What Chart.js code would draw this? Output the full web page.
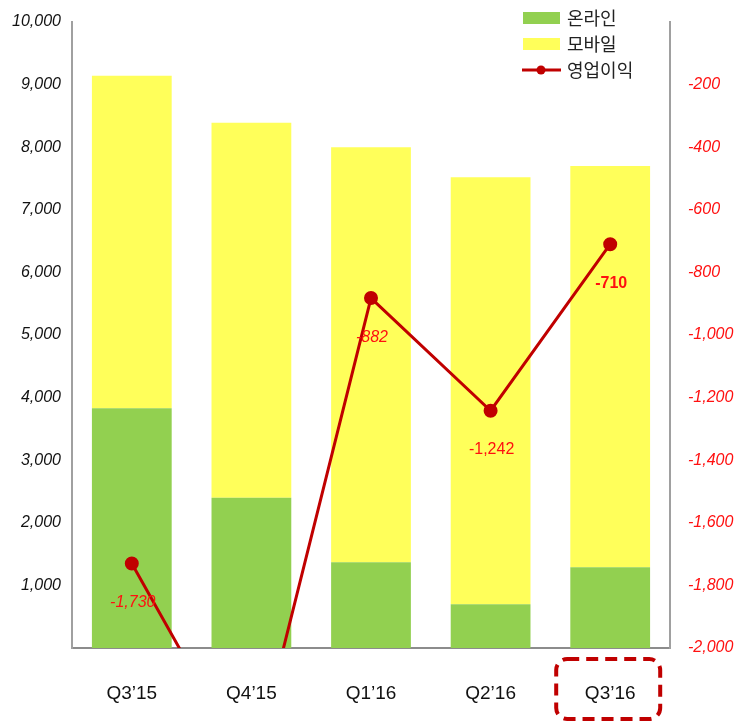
<!DOCTYPE html>
<html>
<head>
<meta charset="utf-8">
<script src="https://cdn.jsdelivr.net/npm/chart.js@4"></script>
<style>
  html, body { margin: 0; padding: 0; background: #fff; }
  #wrap { position: relative; width: 736px; height: 722px; }
</style>
</head>
<body>
<div id="wrap"><canvas id="c" width="736" height="722"></canvas></div>
<script>
const quarters = ['Q3’15', 'Q4’15', 'Q1’16', 'Q2’16', 'Q3’16'];
const online = [3830, 2400, 1370, 700, 1290];
const mobile = [5310, 5990, 6630, 6820, 6410];
const opProfit = [-1730, -2410, -882, -1242, -710];
const profitLabels = ['-1,730', '', '-882', '-1,242', '-710'];
const seriesNames = ['온라인', '모바일', '영업이익'];

const FONT = '"Liberation Sans", "Noto Sans CJK KR", sans-serif';
const KFONT = '"Noto Sans CJK KR", "Noto Sans", sans-serif';
const GREEN = '#92D050';
const YELLOW = '#FFFF5A';
const RED = '#C00000';

// legend drawn inside chart area, top-right
const legendPlugin = {
  id: 'cornerLegend',
  afterDraw(chart) {
    const ctx = chart.ctx;
    const x = 523, y0 = 18, gap = 26;
    ctx.save();
    ctx.font = '18px ' + KFONT;
    ctx.textBaseline = 'middle';
    ctx.fillStyle = GREEN;
    ctx.fillRect(x, y0 - 6, 37, 12);
    ctx.fillStyle = YELLOW;
    ctx.fillRect(x, y0 + gap - 6, 37, 12);
    ctx.strokeStyle = RED;
    ctx.lineWidth = 3;
    ctx.beginPath();
    ctx.moveTo(x - 1, y0 + gap * 2);
    ctx.lineTo(x + 38, y0 + gap * 2);
    ctx.stroke();
    ctx.fillStyle = RED;
    ctx.beginPath();
    ctx.arc(x + 18, y0 + gap * 2, 4.5, 0, Math.PI * 2);
    ctx.fill();
    ctx.fillStyle = '#222';
    seriesNames.forEach((n, i) => ctx.fillText(n, x + 44, y0 + gap * i));
    ctx.restore();
  }
};

// value labels under line points + dashed box round last category
const labelPlugin = {
  id: 'profitLabels',
  afterDatasetsDraw(chart) {
    const ctx = chart.ctx;
    const meta = chart.getDatasetMeta(2);
    const styles = ['italic ', '', 'italic ', '', 'bold '];
    ctx.save();
    ctx.fillStyle = '#FF1010';
    ctx.textAlign = 'center';
    ctx.textBaseline = 'middle';
    meta.data.forEach((pt, i) => {
      if (!profitLabels[i]) return;
      ctx.font = styles[i] + '16px ' + FONT;
      ctx.fillText(profitLabels[i], pt.x + 1, pt.y + 39);
    });

    const xs = chart.scales.x;
    const cx = xs.getPixelForValue(quarters.length - 1);
    const top = chart.chartArea.bottom + 11, h = 60, w = 104;
    ctx.strokeStyle = RED;
    ctx.lineWidth = 4;
    ctx.setLineDash([12, 7]);
    ctx.beginPath();
    ctx.roundRect(cx - w / 2 - 2, top, w, h, 11);
    ctx.stroke();
    ctx.restore();
  }
};

// vertical axes: fixed width, no label overflow padding
const fixVertical = width => s => {
  s.width = width;
  s.paddingTop = 0;
  s.paddingBottom = 0;
};

new Chart(document.getElementById('c'), {
  data: {
    labels: quarters,
    datasets: [
      {
        type: 'bar', label: seriesNames[0], data: online,
        backgroundColor: GREEN, yAxisID: 'y', order: 2,
        barPercentage: 1, categoryPercentage: 0.667
      },
      {
        type: 'bar', label: seriesNames[1], data: mobile,
        backgroundColor: YELLOW, yAxisID: 'y', order: 2,
        barPercentage: 1, categoryPercentage: 0.667
      },
      {
        type: 'line', label: seriesNames[2], data: opProfit,
        borderColor: RED, backgroundColor: RED, borderWidth: 3,
        pointRadius: 5.5, pointHoverRadius: 5.5, yAxisID: 'y1', order: 1,
        tension: 0
      }
    ]
  },
  options: {
    responsive: false,
    animation: false,
    layout: { autoPadding: false, padding: { top: 22, left: 0, right: 0, bottom: 0 } },
    plugins: {
      legend: { display: false },
      tooltip: { enabled: false }
    },
    scales: {
      x: {
        stacked: true,
        grid: { display: false, drawTicks: false },
        border: { color: '#8c8c8c', width: 2 },
        ticks: {
          color: '#111', padding: 34,
          font: { family: FONT, size: 19 }
        },
        afterFit(s) { s.height = 74; }
      },
      y: {
        stacked: true, position: 'left', min: 0, max: 10000,
        grid: { display: false, drawTicks: false },
        border: { color: '#a0a0a0', width: 2 },
        ticks: {
          stepSize: 1000, padding: 11, color: '#111',
          font: { family: FONT, size: 16, style: 'italic' },
          callback: v => v === 0 ? '' : v.toLocaleString('en-US')
        },
        afterFit: fixVertical(72)
      },
      y1: {
        position: 'right', min: -2000, max: 0,
        grid: { display: false, drawTicks: false },
        border: { color: '#a0a0a0', width: 2 },
        ticks: {
          stepSize: 200, padding: 18, color: '#FF1010',
          font: { family: FONT, size: 16, style: 'italic' },
          callback: v => v === 0 ? '' : v.toLocaleString('en-US')
        },
        afterFit: fixVertical(66)
      }
    }
  },
  plugins: [legendPlugin, labelPlugin]
});
</script>
</body>
</html>
